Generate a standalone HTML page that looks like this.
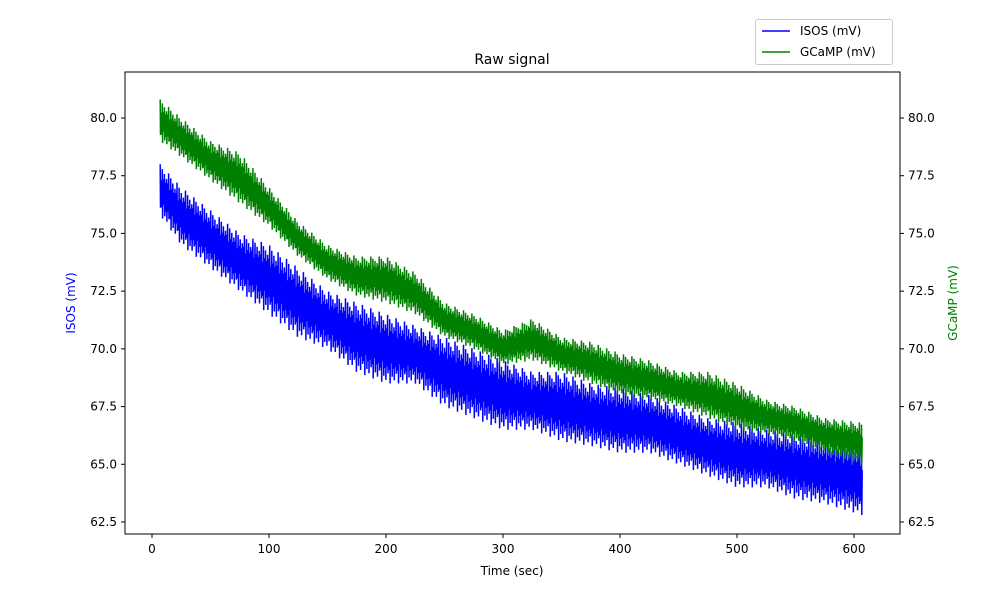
<!DOCTYPE html>
<html><head><meta charset="utf-8"><style>
body{margin:0;background:#fff;font-family:"Liberation Sans","DejaVu Sans",sans-serif}
</style></head><body>
<svg id="chart" width="1000" height="600" xmlns="http://www.w3.org/2000/svg" font-family="DejaVu Sans, Liberation Sans, sans-serif" font-size="12">
<rect width="1000" height="600" fill="#fff"/>
<g id="marks"></g>
<rect x="125" y="72" width="775" height="462" fill="none" stroke="#000" stroke-width="1"/>
<g id="axes"></g>
<text x="512" y="64" text-anchor="middle" font-size="14">Raw signal</text>
<text x="512" y="575" text-anchor="middle">Time (sec)</text>
<text transform="translate(75,303) rotate(-90)" text-anchor="middle" fill="blue">ISOS (mV)</text>
<text transform="translate(957,303) rotate(-90)" text-anchor="middle" fill="green">GCaMP (mV)</text>
<g>
<rect x="755.5" y="19.5" width="137" height="45" rx="2" fill="#fff" stroke="#ccc"/>
<line x1="762" y1="31" x2="790" y2="31" stroke="blue" stroke-width="1.5"/>
<text x="800" y="35">ISOS (mV)</text>
<line x1="762" y1="52" x2="790" y2="52" stroke="green" stroke-width="1.5"/>
<text x="800" y="56">GCaMP (mV)</text>
</g>
</svg>
<script>
const times=[7,25,50,75,100,125,150,175,200,225,250,275,300,325,350,375,400,425,450,475,500,525,550,575,607];
const isosLow=[75.8,74.5,73.5,72.5,71.5,70.5,70,69,68.5,68.5,67.5,67,66.5,66.5,66,65.8,65.5,65.5,65,64.5,64,64,63.5,63.3,62.8];
const isosHigh=[78,77,76,75,74.5,73.5,72.5,72,71.5,71,70.5,70,69.5,69,69,68.5,68.3,68,67.5,67,66.8,66.5,66.3,66,65.8];
const gcampLow=[79,78.3,77.3,76.3,75.3,74,73,72.3,72,71.5,70.5,70,69.3,69.5,69,68.5,68,67.8,67.5,67,66.5,66.3,66,65.5,65];
const gcampHigh=[80.8,80,79,78.5,77,75.5,74.5,74,74,73.3,72,71.5,70.8,71.3,70.5,70.3,69.8,69.5,69,69,68.5,67.8,67.5,67,66.8];
const xTicks=[0,100,200,300,400,500,600];
const yTicks=[62.5,65,67.5,70,72.5,75,77.5,80];
const NS="http://www.w3.org/2000/svg";
const X=t=>152+t*(854-152)/600;
const Y=v=>118+(80-v)*(522-118)/17.5;
const texture=[1,0,0.75,0.25,0.7,0.3,0.85,0.15,0.65,0.35,0.8,0.2,0.9,0.05,0.7,0.3,0.6,0.4,0.95,0.1,0.55,0.45,0.78,0.22];
function interp(arr,t){for(let i=0;i<times.length-1;i++){if(t<=times[i+1]){const f=(t-times[i])/(times[i+1]-times[i]);return arr[i]+f*(arr[i+1]-arr[i]);}}return arr[arr.length-1];}
function series(lo,hi,color,name){
  let d="";let k=0;
  for(let t=times[0];t<=times[times.length-1];t+=0.3,k++){
    const a=interp(lo,t),b=interp(hi,t);
    const f=texture[(k*7)%texture.length];
    const v=a+f*(b-a);
    d+=(k?"L":"M")+X(t).toFixed(1)+","+Y(v).toFixed(1);
  }
  const p=document.createElementNS(NS,"path");
  p.setAttribute("d",d);p.setAttribute("fill","none");p.setAttribute("stroke",color);p.setAttribute("stroke-width","1.5");
  
  
  document.getElementById("marks").appendChild(p);
}
series(isosLow,isosHigh,"blue","isos-series");
series(gcampLow,gcampHigh,"green","gcamp-series");
const ax=document.getElementById("axes");
function add(tag,attrs,txt){const e=document.createElementNS(NS,tag);for(const k in attrs)e.setAttribute(k,attrs[k]);if(txt!==undefined)e.textContent=txt;ax.appendChild(e);return e;}
xTicks.forEach(t=>{const x=X(t);
  const l=add("line",{x1:x,x2:x,y1:534,y2:538,stroke:"#000"});
  
  
  const s=add("text",{x:x,y:553,"text-anchor":"middle"},String(t));
  
  
});
yTicks.forEach(v=>{const y=Y(v);
  const l=add("line",{x1:121,x2:125,y1:y,y2:y,stroke:"#000"});
  
  
  const s=add("text",{x:117,y:y+4,"text-anchor":"end"},v.toFixed(1));
  
  
  const r=add("line",{x1:900,x2:904,y1:y,y2:y,stroke:"#000"});
  
  
  const rs=add("text",{x:908,y:y+4,"text-anchor":"start"},v.toFixed(1));
  
  
});
</script>
</body></html>
